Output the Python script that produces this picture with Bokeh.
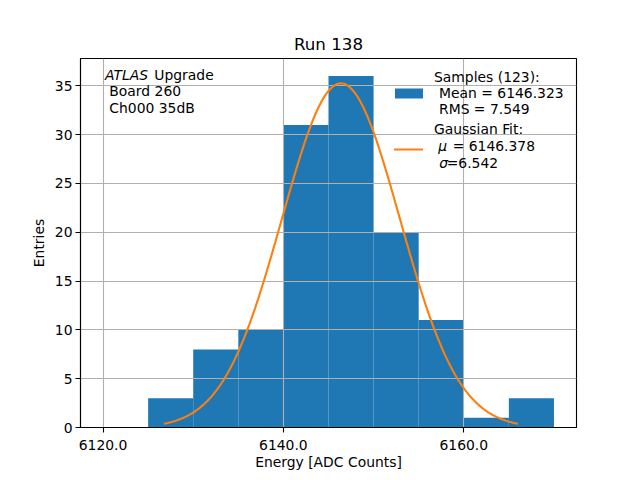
import numpy as np
from bokeh.plotting import figure
from bokeh.models import (Range1d, FixedTicker, PrintfTickFormatter, Label, BoxAnnotation)
from bokeh.embed import file_html
from bokeh.resources import INLINE

# ---- data ----
bin_edges = [6120, 6125, 6130, 6135, 6140, 6145, 6150, 6155, 6160, 6165, 6170]
counts = [0, 3, 8, 10, 31, 36, 20, 11, 1, 3]
n_samples = 123
sample_mean = 6146.323
sample_rms = 7.549
fit_mu = 6146.378
fit_sigma = 6.542
fit_amplitude = 35.25
x_ticks = [6120, 6140, 6160]
y_ticks = [0, 5, 10, 15, 20, 25, 30, 35]

FONT = "DejaVu Sans"
FS = "13.9px"
BLUE = "#1f77b4"
ORANGE = "#ff7f0e"

p = figure(width=640, height=480, output_backend="svg", toolbar_location=None,
           x_range=Range1d(6117.5, 6172.5), y_range=Range1d(0, 37.8),
           min_border_left=80, min_border_right=64, min_border_top=58, min_border_bottom=53,
           title="Run 138")
p.title.align = "center"
p.title.text_font = FONT
p.title.text_font_size = "16.7px"
p.title.text_font_style = "normal"
p.title.text_color = "black"

# histogram bars (below grid)
bars = p.quad(left=bin_edges[:-1], right=bin_edges[1:], top=counts, bottom=0,
              fill_color=BLUE, line_color=None)
bars.level = "image"

# gaussian fit curve
xs = np.linspace(fit_mu - 3 * fit_sigma, fit_mu + 3 * fit_sigma, 300)
ys = fit_amplitude * np.exp(-0.5 * ((xs - fit_mu) / fit_sigma) ** 2)
p.line(xs, ys, line_color=ORANGE, line_width=2.1)

# axes
for ax in (p.xaxis, p.yaxis):
    ax.axis_line_color = "black"
    ax.axis_line_width = 1.1
    ax.major_tick_line_color = "black"
    ax.major_tick_line_width = 1.1
    ax.major_tick_out = 5
    ax.major_tick_in = 0
    ax.minor_tick_line_color = None
    ax.major_label_text_font = FONT
    ax.major_label_text_font_size = FS
    ax.major_label_text_color = "black"
    ax.axis_label_text_font = FONT
    ax.axis_label_text_font_size = FS
    ax.axis_label_text_font_style = "normal"
    ax.axis_label_text_color = "black"
    ax.axis_label_standoff = 5

p.xaxis.major_label_standoff = 7
p.xaxis.axis_label_standoff = 1
p.yaxis.major_label_standoff = 3

p.xaxis.ticker = FixedTicker(ticks=x_ticks)
p.xaxis.formatter = PrintfTickFormatter(format="%.1f")
p.yaxis.ticker = FixedTicker(ticks=y_ticks)
p.xaxis.axis_label = "Energy [ADC Counts]"
p.yaxis.axis_label = "Entries"

p.grid.grid_line_color = "#b0b0b0"
p.grid.grid_line_width = 1.1
p.outline_line_color = "black"
p.outline_line_width = 1.1
p.background_fill_color = "white"
p.border_fill_color = "white"

DY = 5.5


def txt(x, y, s, style="normal"):
    p.add_layout(Label(x=x, y=y + DY, x_units="screen", y_units="screen", text=s,
                       text_font=FONT, text_font_size=FS, text_font_style=style,
                       text_color="black", text_baseline="alphabetic", text_align="left"))


# upper-left annotation
txt(24.5, 347.5, "ATLAS", "italic")
txt(73.8, 347.5, "Upgrade")
txt(28.8, 331, "Board 260")
txt(28.8, 314.5, "Ch000 35dB")

# legend (manual)
txt(353.5, 345.5, f"Samples ({n_samples}):")
txt(358.5, 329.5, f"Mean = {sample_mean:.3f}")
txt(358.5, 313.5, f"RMS = {sample_rms:.3f}")
txt(353.5, 293.5, "Gaussian Fit:")
txt(357.8, 276.5, "\u03bc", "italic")
txt(372.2, 276.5, f"= {fit_mu:.3f}")
txt(358.8, 259.5, "\u03c3", "italic")
txt(366.2, 259.5, f"={fit_sigma:.3f}")

p.add_layout(BoxAnnotation(left=314.5, right=342.5, bottom=329, top=339,
                           left_units="screen", right_units="screen",
                           bottom_units="screen", top_units="screen",
                           fill_color=BLUE, fill_alpha=1.0, line_color=None))
p.add_layout(BoxAnnotation(left=313.5, right=342.5, bottom=277, top=279,
                           left_units="screen", right_units="screen",
                           bottom_units="screen", top_units="screen",
                           fill_color=ORANGE, fill_alpha=1.0, line_color=None))

open("out.html", "w").write(file_html(p, INLINE))
